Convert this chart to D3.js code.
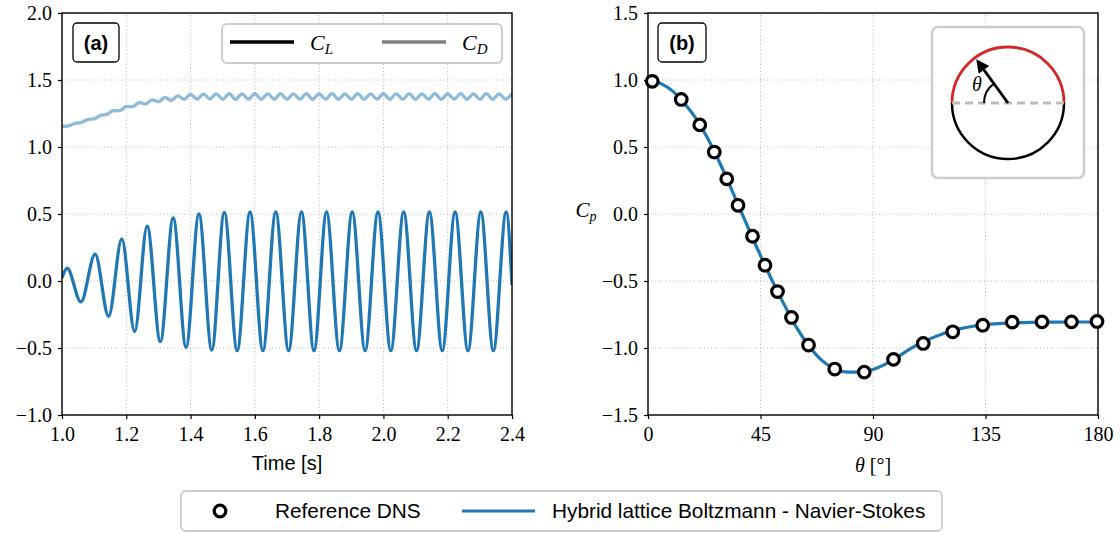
<!DOCTYPE html>
<html><head><meta charset="utf-8">
<script src="https://cdn.jsdelivr.net/npm/d3@7"></script>
<style>
body{margin:0;background:#fff;}
svg{display:block;}
</style></head><body>
<svg id="c" width="1120" height="534"></svg>
<script>
// ---------------- DATA ----------------
// Panel (a): lift coefficient extrema (time, value)
const clTime = [1.000, 1.016, 1.059, 1.103, 1.145, 1.186, 1.226, 1.265, 1.306, 1.346, 1.386, 1.426, 1.466,
  1.505, 1.545, 1.585, 1.625, 1.665, 1.705, 1.745, 1.784, 1.823, 1.863, 1.903, 1.943, 1.983, 2.023,
  2.063, 2.103, 2.143, 2.183, 2.223, 2.263, 2.303, 2.342, 2.382, 2.400];
const clValue = [0.025, 0.095, -0.156, 0.200, -0.264, 0.314, -0.377, 0.410, -0.452, 0.470, -0.495, 0.500, -0.515,
  0.512, -0.520, 0.515, -0.520, 0.515, -0.520, 0.515, -0.520, 0.515, -0.520, 0.515, -0.520, 0.515, -0.520,
  0.515, -0.520, 0.515, -0.520, 0.515, -0.520, 0.515, -0.520, 0.515, -0.030];
// Panel (a): drag coefficient extrema
const cdTime = [1.00, 1.02, 1.04, 1.06, 1.08, 1.10, 1.12, 1.14, 1.16, 1.18, 1.20, 1.22, 1.24, 1.26, 1.28, 1.30,
  1.32, 1.34, 1.36, 1.38, 1.40, 1.42, 1.44, 1.46, 1.48, 1.50, 1.52, 1.54, 1.56, 1.58, 1.60, 1.62, 1.64, 1.66,
  1.68, 1.70, 1.72, 1.74, 1.76, 1.78, 1.80, 1.82, 1.84, 1.86, 1.88, 1.90, 1.92, 1.94, 1.96, 1.98, 2.00, 2.02,
  2.04, 2.06, 2.08, 2.10, 2.12, 2.14, 2.16, 2.18, 2.20, 2.22, 2.24, 2.26, 2.28, 2.30, 2.32, 2.34, 2.36, 2.38, 2.40];
const cdValue = [1.153, 1.158, 1.176, 1.183, 1.205, 1.210, 1.236, 1.243, 1.272, 1.272, 1.303, 1.301, 1.332, 1.321,
  1.352, 1.338, 1.371, 1.347, 1.382, 1.356, 1.392, 1.358, 1.395, 1.359, 1.397, 1.357, 1.398, 1.356, 1.397, 1.357,
  1.398, 1.356, 1.397, 1.357, 1.398, 1.356, 1.397, 1.357, 1.398, 1.356, 1.397, 1.357, 1.398, 1.356, 1.397, 1.357,
  1.398, 1.356, 1.397, 1.357, 1.398, 1.356, 1.397, 1.357, 1.398, 1.356, 1.397, 1.357, 1.398, 1.356, 1.397, 1.357,
  1.398, 1.356, 1.397, 1.357, 1.398, 1.356, 1.397, 1.357, 1.398];
// Panel (b): reference DNS points
const dnsTheta = [1.7, 13.3, 20.7, 26.5, 31.5, 36.0, 41.8, 46.8, 51.8, 57.4, 64.2, 74.7, 86.5, 98.2, 110.1,
  121.9, 133.9, 145.7, 157.6, 169.4, 179.6];
const dnsCp = [0.99, 0.855, 0.665, 0.462, 0.262, 0.065, -0.166, -0.382, -0.579, -0.772, -0.978, -1.157, -1.180,
  -1.085, -0.966, -0.879, -0.830, -0.807, -0.805, -0.805, -0.802];
// Panel (b): hybrid LBM-NS curve
const hybTheta = [0, 5, 10, 15, 20, 25, 30, 35, 40, 45, 50, 55, 60, 65, 70, 75, 80, 85, 90, 95, 100, 105, 110,
  115, 120, 125, 130, 135, 140, 150, 160, 170, 180];
const hybCp = [1.000, 0.975, 0.915, 0.815, 0.690, 0.525, 0.330, 0.115, -0.100, -0.310, -0.510, -0.695, -0.865,
  -1.000, -1.100, -1.160, -1.180, -1.178, -1.160, -1.120, -1.065, -1.005, -0.955, -0.915, -0.880, -0.855,
  -0.838, -0.826, -0.818, -0.810, -0.807, -0.806, -0.806];
// Ticks
const timeTicks = [1.0, 1.2, 1.4, 1.6, 1.8, 2.0, 2.2, 2.4];
const forceTicks = [-1.0, -0.5, 0.0, 0.5, 1.0, 1.5, 2.0];
const thetaTicks = [0, 45, 90, 135, 180];
const cpTicks = [-1.5, -1.0, -0.5, 0.0, 0.5, 1.0, 1.5];

// ---------------- DRAWING ----------------
const svg = d3.select('#c');
const blue = '#1f77b4';
const serif = '"Liberation Serif", "DejaVu Serif", serif';
const sans = '"Liberation Sans", "DejaVu Sans", sans-serif';

const xA = d3.scaleLinear().domain([1.0, 2.4]).range([62, 512]);
const yA = d3.scaleLinear().domain([-1.0, 2.0]).range([415, 13]);
const xB = d3.scaleLinear().domain([0, 180]).range([648, 1098]);
const yB = d3.scaleLinear().domain([-1.5, 1.5]).range([415, 13]);

const fmt1 = d3.format('.1f');

function panel(x, y, xt, yt, xfmt, id) {
  const g = svg.append('g');
  const [x0, x1] = x.range(), [y0, y1] = y.range();
  g.selectAll('.gx').data(xt).join('line')
    .attr('x1', d => x(d)).attr('x2', d => x(d)).attr('y1', y0).attr('y2', y1)
    .attr('stroke', '#b0b0b0').attr('stroke-width', 0.9).attr('stroke-dasharray', '1,2.5');
  g.selectAll('.gy').data(yt).join('line')
    .attr('y1', d => y(d)).attr('y2', d => y(d)).attr('x1', x0).attr('x2', x1)
    .attr('stroke', '#b0b0b0').attr('stroke-width', 0.9).attr('stroke-dasharray', '1,2.5');
  svg.append('clipPath').attr('id', id).append('rect')
    .attr('x', x0).attr('y', y1).attr('width', x1 - x0).attr('height', y0 - y1);
  return g;
}
function axes(x, y, xt, yt, xfmt) {
  const [x0, x1] = x.range(), [y0, y1] = y.range();
  const ax = svg.append('g').attr('transform', `translate(0,${y0})`)
    .call(d3.axisBottom(x).tickValues(xt).tickFormat(xfmt).tickSize(4).tickPadding(8).tickSizeOuter(0));
  const ay = svg.append('g').attr('transform', `translate(${x0},0)`)
    .call(d3.axisLeft(y).tickValues(yt).tickFormat(fmt1).tickSize(4).tickPadding(6).tickSizeOuter(0));
  [ax, ay].forEach(a => {
    a.select('.domain').remove();
    a.selectAll('line').attr('stroke', '#000').attr('stroke-width', 1.2);
    a.selectAll('text').attr('font-family', serif).attr('font-size', 20).attr('fill', '#000');
  });
  svg.append('rect').attr('x', x0).attr('y', y1).attr('width', x1 - x0).attr('height', y0 - y1)
    .attr('fill', 'none').attr('stroke', '#000').attr('stroke-width', 1.4);
}
function tag(x, y, w, h, label) {
  svg.append('rect').attr('x', x).attr('y', y).attr('width', w).attr('height', h).attr('rx', 4)
    .attr('fill', '#fff').attr('stroke', '#000').attr('stroke-width', 1.3);
  svg.append('text').attr('x', x + w / 2).attr('y', y + h / 2 + 7).attr('text-anchor', 'middle')
    .attr('font-family', sans).attr('font-weight', 'bold').attr('font-size', 20).text(label);
}

// ---- Panel (a)
panel(xA, yA, timeTicks, forceTicks, fmt1, 'clipA');
const lineCD = d3.line().x((d, i) => xA(cdTime[i])).y(d => yA(d)).curve(d3.curveMonotoneX);
const lineCL = d3.line().x((d, i) => xA(clTime[i])).y(d => yA(d)).curve(d3.curveMonotoneX);
svg.append('path').attr('d', lineCD(cdValue)).attr('fill', 'none').attr('stroke', blue)
  .attr('stroke-opacity', 0.5).attr('stroke-width', 3.3).attr('clip-path', 'url(#clipA)');
svg.append('path').attr('d', lineCL(clValue)).attr('fill', 'none').attr('stroke', blue)
  .attr('stroke-width', 3.3).attr('clip-path', 'url(#clipA)');
axes(xA, yA, timeTicks, forceTicks, fmt1);
svg.append('text').attr('x', (xA.range()[0] + xA.range()[1]) / 2).attr('y', 470).attr('text-anchor', 'middle')
  .attr('font-family', sans).attr('font-size', 20).text('Time [s]');
tag(73, 23, 46, 39, '(a)');
// legend (a)
const lgA = svg.append('g');
lgA.append('rect').attr('x', 222).attr('y', 24).attr('width', 280).attr('height', 39).attr('rx', 5)
  .attr('fill', '#fff').attr('stroke', '#cccccc').attr('stroke-width', 2);
const legA = [{name: 'L', color: '#000', x: 230}, {name: 'D', color: '#808080', x: 382}];
legA.forEach(d => {
  lgA.append('line').attr('x1', d.x).attr('x2', d.x + 64).attr('y1', 42).attr('y2', 42)
    .attr('stroke', d.color).attr('stroke-width', 3.3);
  const t = lgA.append('text').attr('x', d.x + 80).attr('y', 50).attr('font-family', serif)
    .attr('font-style', 'italic').attr('font-size', 22);
  t.append('tspan').text('C');
  t.append('tspan').attr('font-size', 15).attr('dy', 4).text(d.name);
});

// ---- Panel (b)
panel(xB, yB, thetaTicks, cpTicks, d3.format('d'), 'clipB');
const lineH = d3.line().x((d, i) => xB(hybTheta[i])).y(d => yB(d)).curve(d3.curveMonotoneX);
svg.append('path').attr('d', lineH(hybCp)).attr('fill', 'none').attr('stroke', blue)
  .attr('stroke-width', 3.2).attr('clip-path', 'url(#clipB)');
axes(xB, yB, thetaTicks, cpTicks, d3.format('d'));
svg.selectAll('.dns').data(dnsCp).join('circle').attr('class', 'dns')
  .attr('cx', (d, i) => xB(dnsTheta[i])).attr('cy', d => yB(d)).attr('r', 5.8)
  .attr('fill', '#fff').attr('stroke', '#000').attr('stroke-width', 3.2);
const xl = svg.append('text').attr('x', (xB.range()[0] + xB.range()[1]) / 2).attr('y', 472)
  .attr('text-anchor', 'middle').attr('font-family', serif).attr('font-size', 20);
xl.append('tspan').attr('font-style', 'italic').text('θ');
xl.append('tspan').text(' [°]');
const yl = svg.append('text').attr('x', 586).attr('y', 217).attr('text-anchor', 'middle')
  .attr('font-family', serif).attr('font-style', 'italic').attr('font-size', 21);
yl.append('tspan').text('C');
yl.append('tspan').attr('font-size', 14).attr('dy', 4).text('p');
tag(658, 23, 48, 39, '(b)');

// inset schematic
const ins = svg.append('g');
ins.append('rect').attr('x', 932).attr('y', 27).attr('width', 152).attr('height', 151).attr('rx', 6)
  .attr('fill', '#fff').attr('stroke', '#cccccc').attr('stroke-width', 2.5);
const cx = 1008, cy = 103, R = 56;
ins.append('path').attr('transform', `translate(${cx},${cy})`)
  .attr('d', d3.arc()({innerRadius: R, outerRadius: R, startAngle: -Math.PI / 2, endAngle: Math.PI / 2}))
  .attr('fill', 'none').attr('stroke', '#d62728').attr('stroke-width', 2.8);
ins.append('path').attr('transform', `translate(${cx},${cy})`)
  .attr('d', d3.arc()({innerRadius: R, outerRadius: R, startAngle: Math.PI / 2, endAngle: 3 * Math.PI / 2}))
  .attr('fill', 'none').attr('stroke', '#000').attr('stroke-width', 2.5);
ins.append('line').attr('x1', cx - R).attr('x2', cx + R).attr('y1', cy).attr('y2', cy)
  .attr('stroke', '#bbbbbb').attr('stroke-width', 2.8).attr('stroke-dasharray', '8,5');
const ang = 54 * Math.PI / 180;
const tipX = cx - 54 * Math.cos(ang), tipY = cy - 54 * Math.sin(ang);
const ux = -Math.cos(ang), uy = -Math.sin(ang);
const hl = 13, hw = 6.5;
const bx = tipX - ux * hl, by = tipY - uy * hl;
ins.append('line').attr('x1', cx).attr('y1', cy).attr('x2', bx).attr('y2', by)
  .attr('stroke', '#000').attr('stroke-width', 2.8);
ins.append('path').attr('d', `M${tipX},${tipY}L${bx - uy * hw},${by + ux * hw}L${bx + uy * hw},${by - ux * hw}Z`)
  .attr('fill', '#000');
const r2 = 24;
ins.append('path').attr('d', `M${cx - r2},${cy} A${r2},${r2} 0 0 1 ${cx - r2 * Math.cos(ang)},${cy - r2 * Math.sin(ang)}`)
  .attr('fill', 'none').attr('stroke', '#000').attr('stroke-width', 2);
ins.append('text').attr('x', 977).attr('y', 91).attr('text-anchor', 'middle').attr('font-family', serif)
  .attr('font-style', 'italic').attr('font-size', 20).text('θ');

// ---- bottom legend
const lg = svg.append('g');
lg.append('rect').attr('x', 181).attr('y', 491).attr('width', 761).attr('height', 40).attr('rx', 5)
  .attr('fill', '#fff').attr('stroke', '#cccccc').attr('stroke-width', 1.8);
lg.append('circle').attr('cx', 220).attr('cy', 511).attr('r', 5.8).attr('fill', '#fff')
  .attr('stroke', '#000').attr('stroke-width', 3.2);
lg.append('text').attr('x', 275).attr('y', 518).attr('font-family', sans).attr('font-size', 20.8)
  .text('Reference DNS');
lg.append('line').attr('x1', 462).attr('x2', 535).attr('y1', 511).attr('y2', 511)
  .attr('stroke', blue).attr('stroke-width', 3.2);
lg.append('text').attr('x', 552).attr('y', 518).attr('font-family', sans).attr('font-size', 20.8)
  .text('Hybrid lattice Boltzmann - Navier-Stokes');
</script>
</body></html>
